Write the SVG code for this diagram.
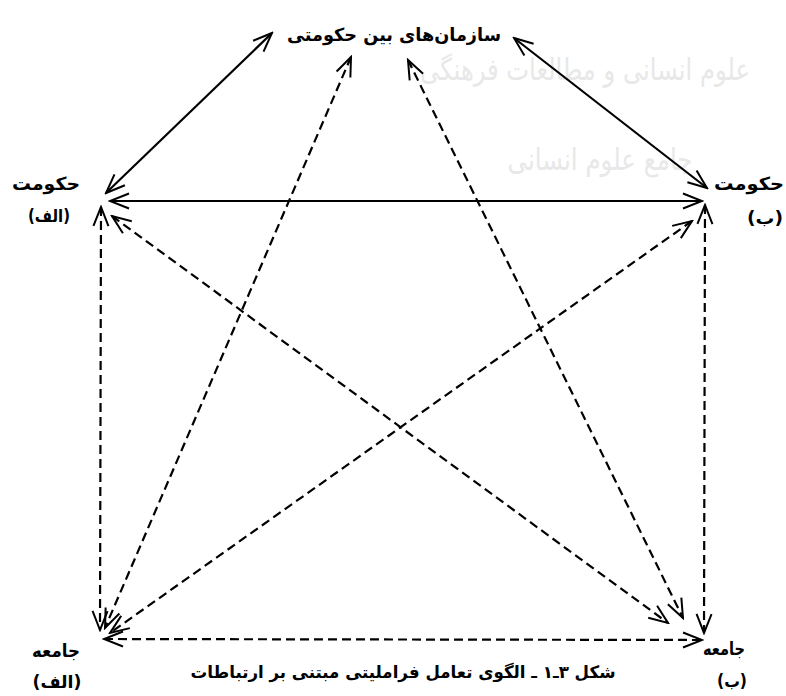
<svg xmlns="http://www.w3.org/2000/svg" width="786" height="696" viewBox="0 0 786 696">
<defs>
<style>
.lbl{font-family:"DejaVu Sans",sans-serif;font-weight:bold;fill:#000;text-anchor:middle}
.wm{font-family:"DejaVu Sans",sans-serif;fill:#e8e8e8;text-anchor:middle}
.solid{stroke:#000;stroke-width:2.2;fill:none}
.dash{stroke:#000;stroke-width:2.2;fill:none;stroke-dasharray:9 5}
</style>
<marker id="ah" viewBox="0 0 22 22" refX="20" refY="11" markerWidth="22" markerHeight="22" markerUnits="userSpaceOnUse" orient="auto-start-reverse">
<path d="M1,3.5 L20,11 L1,18.5" fill="none" stroke="#000" stroke-width="2" stroke-linejoin="miter"/>
</marker>
</defs>
<rect width="786" height="696" fill="#fff"/>
<g id="watermark">
<text class="wm" x="585" y="80" font-size="30" textLength="330" lengthAdjust="spacingAndGlyphs">علوم انسانی و مطالعات فرهنگی</text>
<text class="wm" x="600" y="170" font-size="30" textLength="185" lengthAdjust="spacingAndGlyphs">جامع علوم انسانی</text>
</g>
<g id="connectors">
<line class="solid" x1="272" y1="33" x2="106" y2="193" marker-start="url(#ah)" marker-end="url(#ah)"/>
<line class="solid" x1="514" y1="38" x2="707" y2="188" marker-start="url(#ah)" marker-end="url(#ah)"/>
<line class="solid" x1="110" y1="201" x2="702" y2="201" marker-start="url(#ah)" marker-end="url(#ah)"/>
<line class="dash" x1="101" y1="207" x2="100" y2="630" marker-start="url(#ah)" marker-end="url(#ah)"/>
<line class="dash" x1="705" y1="205" x2="704" y2="633" marker-start="url(#ah)" marker-end="url(#ah)"/>
<line class="dash" x1="104" y1="639" x2="702" y2="640" marker-start="url(#ah)" marker-end="url(#ah)"/>
<line class="dash" x1="351" y1="57" x2="105" y2="628" marker-start="url(#ah)" marker-end="url(#ah)"/>
<line class="dash" x1="408" y1="60" x2="683" y2="618" marker-start="url(#ah)" marker-end="url(#ah)"/>
<line class="dash" x1="112" y1="216" x2="668" y2="623" marker-start="url(#ah)" marker-end="url(#ah)"/>
<line class="dash" x1="692" y1="221" x2="110" y2="633" marker-start="url(#ah)" marker-end="url(#ah)"/>
</g>
<g id="node-igo">
<text class="lbl" x="394" y="41" font-size="18" textLength="214" lengthAdjust="spacingAndGlyphs">سازمان‌های بین حکومتی</text>
</g>
<g id="node-gov-a">
<text class="lbl" x="46" y="190" font-size="18" textLength="68" lengthAdjust="spacingAndGlyphs">حکومت</text>
<text class="lbl" x="49" y="222" font-size="17" textLength="42" lengthAdjust="spacingAndGlyphs">(الف)</text>
</g>
<g id="node-gov-b">
<text class="lbl" x="749" y="190" font-size="18" textLength="70" lengthAdjust="spacingAndGlyphs">حکومت</text>
<text class="lbl" x="765" y="224" font-size="17" textLength="36" lengthAdjust="spacingAndGlyphs">(ب)</text>
</g>
<g id="node-soc-a">
<text class="lbl" x="56" y="657" font-size="18" textLength="48" lengthAdjust="spacingAndGlyphs">جامعه</text>
<text class="lbl" x="57" y="688" font-size="17" textLength="49" lengthAdjust="spacingAndGlyphs">(الف)</text>
</g>
<g id="node-soc-b">
<text class="lbl" x="724" y="655" font-size="18" textLength="42" lengthAdjust="spacingAndGlyphs">جامعه</text>
<text class="lbl" x="732" y="687" font-size="17" textLength="30" lengthAdjust="spacingAndGlyphs">(ب)</text>
</g>
<g id="caption">
<text class="lbl" x="403" y="678" font-size="17" textLength="425" lengthAdjust="spacingAndGlyphs">شکل ۳ـ۱ ـ الگوی تعامل فراملیتی مبتنی بر ارتباطات</text>
</g>
</svg>
